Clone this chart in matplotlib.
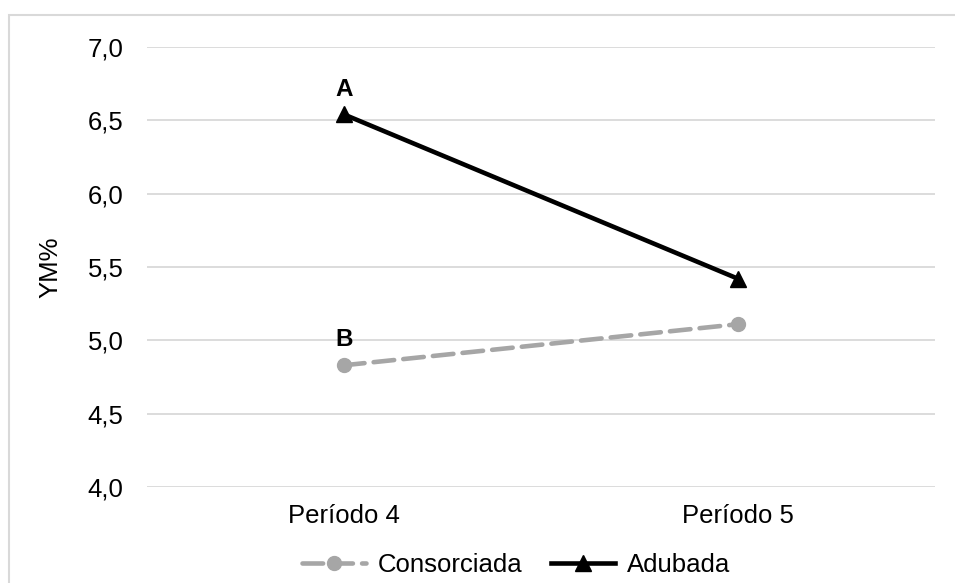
import matplotlib
matplotlib.use("Agg")
import matplotlib.pyplot as plt
from matplotlib.patches import Rectangle
from matplotlib.lines import Line2D

categories = ["Período 4", "Período 5"]
consorciada = [4.83, 5.11]
adubada = [6.54, 5.42]
letters_p4 = {"A": 6.54, "B": 4.83}
yticks = [4.0, 4.5, 5.0, 5.5, 6.0, 6.5, 7.0]
ytick_labels = ["4,0", "4,5", "5,0", "5,5", "6,0", "6,5", "7,0"]

plt.rcParams['font.family'] = ['Liberation Sans', 'DejaVu Sans']
FS = 18.5

fig = plt.figure(figsize=(9.55, 5.83), dpi=100)
ax = fig.add_axes([147/955, 1-487/583, (935-147)/955, (487-47)/583])

fig.patches.append(Rectangle((8.5/955, -0.1), 1.2, 1 - 15.5/583 + 0.1,
                             transform=fig.transFigure, fill=False,
                             edgecolor="#D9D9D9", linewidth=1.5, zorder=0))

x = list(range(len(categories)))
gray = "#A6A6A6"
ax.plot(x, consorciada, color=gray, linewidth=3.3, linestyle=(0, (4.5, 2.0)),
        marker="o", markersize=10, markeredgecolor=gray, markerfacecolor=gray,
        label="Consorciada", zorder=3, dash_capstyle="round")
ax.plot(x, adubada, color="black", linewidth=3.3, marker="^", markersize=12,
        label="Adubada", zorder=4)

for letter, val in letters_p4.items():
    ax.annotate(letter, (0, val), xytext=(0, 10), textcoords="offset points",
                ha="center", va="bottom", fontsize=FS-1, fontweight="bold")

ax.set_xlim(-0.5, 1.5)
ax.set_ylim(4.0, 7.0)
ax.set_yticks(yticks)
ax.set_yticklabels(ytick_labels)
ax.set_xticks(x)
ax.set_xticklabels(categories)
ax.tick_params(axis="both", length=0, labelsize=FS)
ax.tick_params(axis="y", pad=17)
ax.tick_params(axis="x", pad=12)
ax.grid(axis="y", color="#D9D9D9", linewidth=1.3)
ax.set_axisbelow(True)
for s in ax.spines.values():
    s.set_visible(False)
ax.set_ylabel("YM%", fontsize=FS, labelpad=18)

handles = [
    Line2D([], [], color=gray, linewidth=3.3, linestyle=(0, (4.5, 2.0)),
           marker="o", markersize=10, markerfacecolor=gray, markeredgecolor=gray,
           dash_capstyle="round"),
    Line2D([], [], color="black", linewidth=3.3, marker="^", markersize=12),
]
fig.legend(handles, ["Consorciada", "Adubada"], loc="center",
           bbox_to_anchor=(516/955, 1-565/583), ncol=2, frameon=False,
           fontsize=FS, handlelength=2.5, handletextpad=0.45, columnspacing=1.1,
           borderaxespad=0)

fig.savefig("out.png", dpi=100)
